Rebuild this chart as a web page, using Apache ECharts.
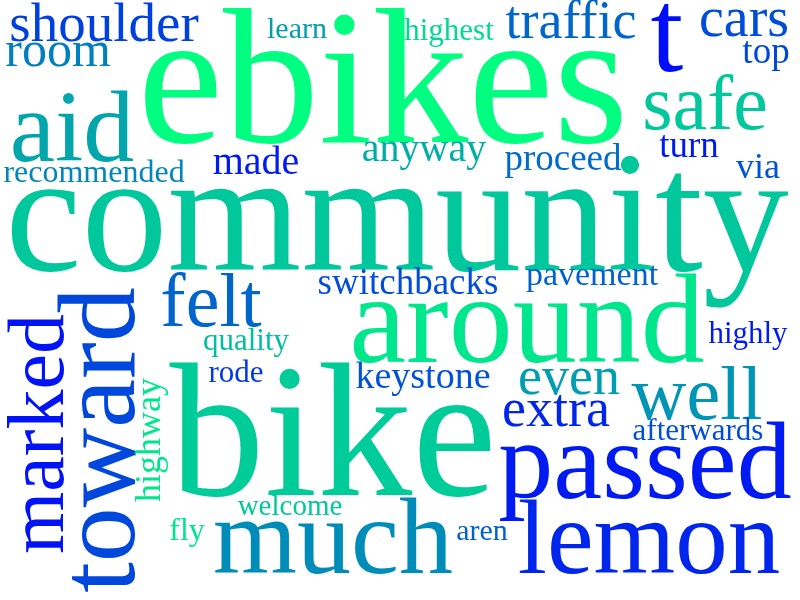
<!DOCTYPE html>
<html lang="en">
<head>
  <meta charset="UTF-8">
  <title>Word cloud</title>
  <script src="https://cdn.jsdelivr.net/npm/echarts@6.0.0/dist/echarts.min.js"></script>
  <style>
    html, body { margin: 0; padding: 0; background: #fff; }
  </style>
</head>
<body>
  <div id="main" style="width: 800px;height:600px;"></div>

  <script type="text/javascript">
    // words and their weights (weight ~ relative frequency, drawn as font size)
    let words = ['ebikes', 'community', 'bike', 'around', 'passed', 'much', 'lemon', 'toward',
      'aid', 't', 'marked', 'safe', 'felt', 'well', 'shoulder', 'cars', 'traffic', 'even',
      'extra', 'room', 'anyway', 'made', 'keystone', 'switchbacks', 'top', 'turn', 'proceed',
      'via', 'highway', 'pavement', 'recommended', 'fly', 'highest', 'quality', 'rode',
      'highly', 'afterwards', 'learn', 'aren', 'welcome'];
    let weights = [192, 172, 190, 128, 110, 108, 105, 110,
      102, 118, 80, 78, 76, 76, 55, 56, 54, 54,
      54, 50, 40, 40, 38, 37, 37, 37, 37,
      36, 36, 34, 32, 32, 31, 31, 31,
      31, 31, 30, 30, 29];

    // placement of each word on the 800x600 canvas: [x, baseline, rotate, colour tone 0..1]
    // (for rotated words x is the baseline and the second value is the centre)
    let layout = [
      [383, 140, 0, 1.0], [397, 268, 0, 0.78], [333, 493, 0, 0.8], [527, 360, 0, 0.9],
      [645, 497, 0, 0.1], [333, 572, 0, 0.55], [649, 572, 0, 0.15], [133, 440, 90, 0.28],
      [72, 160, 0, 0.65], [667, 70, 0, 0.05], [62, 434, 90, 0.08], [705, 128, 0, 0.78],
      [211, 325, 0, 0.4], [697, 418, 0, 0.58], [104, 40, 0, 0.25], [744, 35, 0, 0.3],
      [571, 37, 0, 0.4], [569, 393, 0, 0.62], [556, 425, 0, 0.15], [58, 65, 0, 0.5],
      [424, 160, 0, 0.68], [256, 173, 0, 0.1], [423, 388, 0, 0.32], [408, 294, 0, 0.3],
      [766, 63, 0, 0.28], [689, 157, 0, 0.1], [563, 170, 0, 0.42], [758, 178, 0, 0.32],
      [160, 440, 90, 0.9], [592, 285, 0, 0.38], [94, 182, 0, 0.52], [187, 540, 0, 0.9],
      [449, 40, 0, 0.85], [246, 350, 0, 0.75], [236, 382, 0, 0.22], [748, 343, 0, 0.1],
      [698, 440, 0, 0.3], [297, 38, 0, 0.62], [482, 540, 0, 0.38], [290, 515, 0, 0.78]
    ];

    const FONT = 'Liberation Serif';
    const MID = 0.25; // label 'middle' sits this far above the baseline, in em

    // blue -> spring green ramp
    function tone(t) {
      let g = Math.round(255 * t);
      let b = Math.round(255 * (1 - 0.5 * t));
      return 'rgb(0,' + g + ',' + b + ')';
    }

    let points = words.map((w, i) => {
      let [x, y, rot, t] = layout[i];
      let size = weights[i];
      let pos = rot === 0 ? [x, y - MID * size] : [x - MID * size, y];
      return {
        name: w,
        value: pos,
        label: {
          fontSize: size,
          rotate: rot,
          color: tone(t)
        }
      };
    });

    let myChart = echarts.init(document.getElementById('main'));

    let options = {
      animation: false,
      backgroundColor: '#ffffff',
      grid: { left: 0, right: 0, top: 0, bottom: 0 },
      xAxis: { type: 'value', min: 0, max: 800, show: false },
      yAxis: { type: 'value', min: 0, max: 600, inverse: true, show: false },
      series: [{
        type: 'scatter',
        symbolSize: 0,
        silent: true,
        itemStyle: { opacity: 1 },
        data: points,
        label: {
          show: true,
          position: 'inside',
          formatter: '{b}',
          fontFamily: FONT,
          opacity: 1,
          align: 'center',
          verticalAlign: 'middle'
        }
      }]
    };

    myChart.setOption(options);
  </script>
</body>
</html>
